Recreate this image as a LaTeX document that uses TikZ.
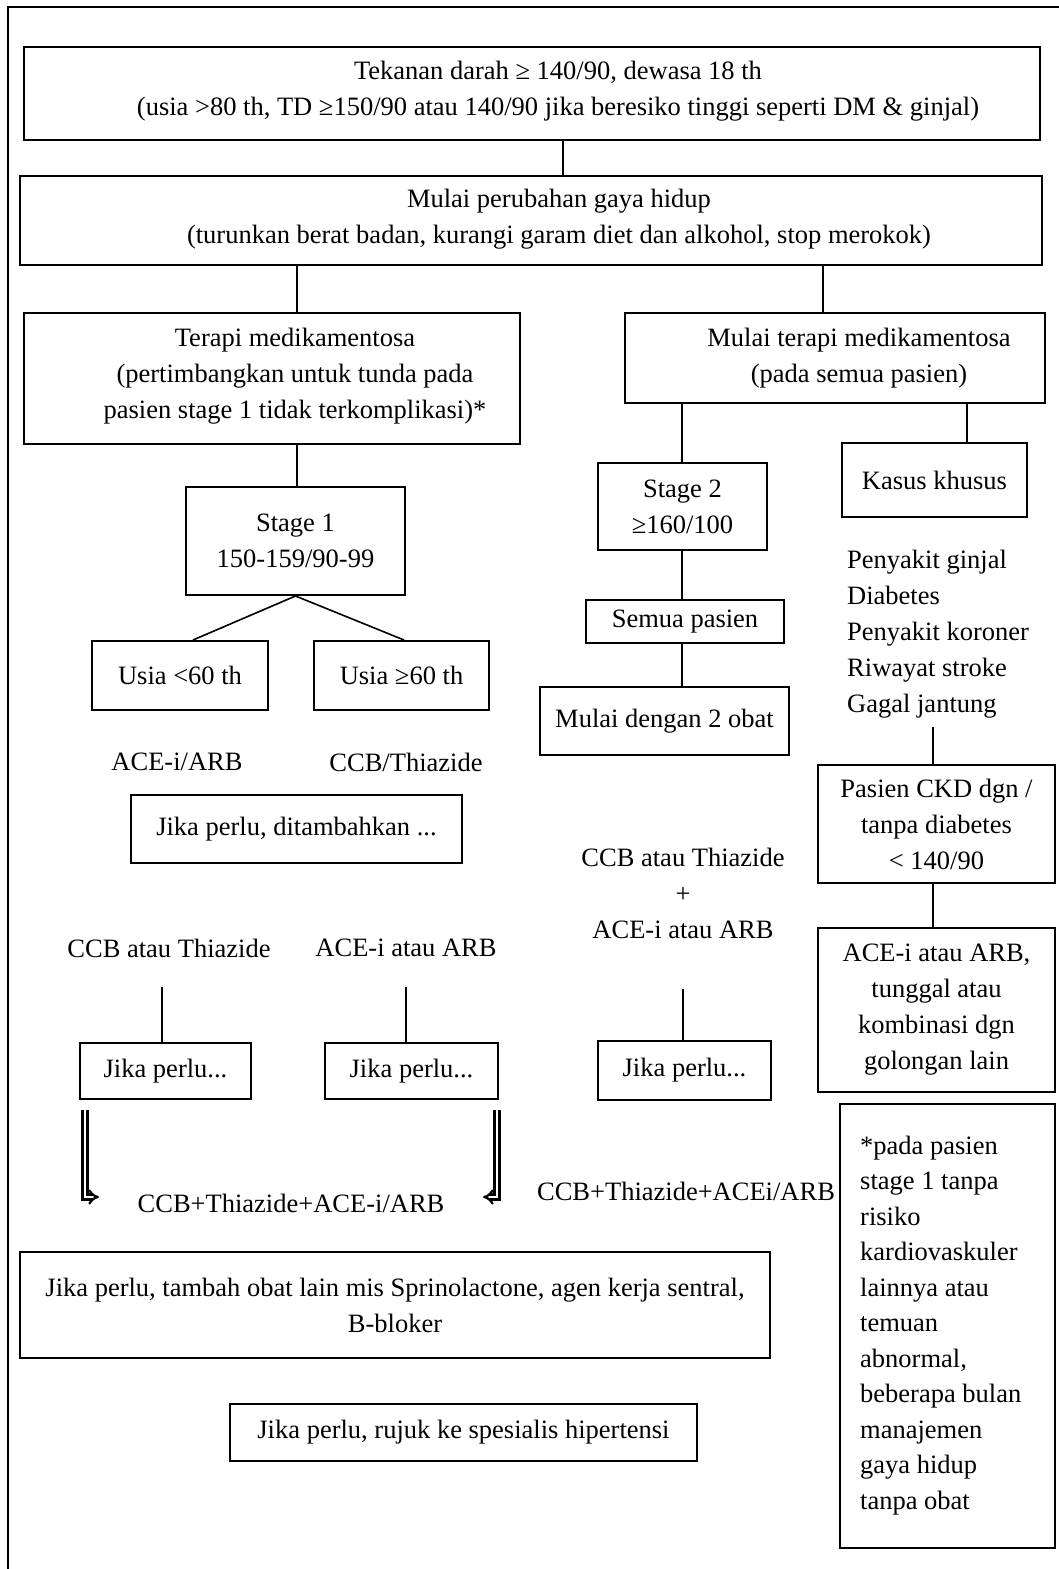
\documentclass[tikz,border=0pt]{standalone}
\usepackage{fontspec}
\setmainfont{Liberation Serif}
\usetikzlibrary{arrows.meta}
\newcommand\myfs{\fontsize{26.5}{36}\selectfont}
\begin{document}
\begin{tikzpicture}[x=1pt,y=-1pt,
  box/.style={draw,line width=2pt,inner sep=0pt,align=center,font=\myfs},
  txt/.style={inner sep=0pt,align=center,font=\myfs},
  ltxt/.style={inner sep=0pt,align=left,font=\myfs,anchor=west},
  conn/.style={line width=1.6pt},
  dbl/.style={double,double distance=2.6pt,line width=2.3pt,-{Implies}}]
\useasboundingbox (0,0) rectangle (1059,1569);
\draw[line width=1.4pt] (8,7) rectangle (1080,1600);
% top boxes
\node[box,minimum width=1016,minimum height=93] (b1) at (532,93.5) {};
\node[txt] (b1t) at (558,91) {Tekanan darah ≥ 140/90, dewasa 18 th\\(usia >80 th, TD ≥150/90 atau 140/90 jika beresiko tinggi seperti DM \& ginjal)};
\node[box,minimum width=1022,minimum height=89] (b2) at (531,220.5) {};
\node[txt] (b2t) at (559,219.5) {Mulai perubahan gaya hidup\\(turunkan berat badan, kurangi garam diet dan alkohol, stop merokok)};
\node[box,minimum width=496,minimum height=131] (b3) at (272,378.5) {};
\node[txt] (b3t) at (295,376.5) {Terapi medikamentosa\\(pertimbangkan untuk tunda pada\\pasien stage 1 tidak terkomplikasi)*};
\node[box,minimum width=420,minimum height=90] (b4) at (835,358) {};
\node[txt] (b4t) at (859,358.5) {Mulai terapi medikamentosa\\(pada semua pasien)};
\draw[conn] (563,0 |- b1.south) -- (563,0 |- b2.north);
\draw[conn] (297,0 |- b2.south) -- (297,0 |- b3.north);
\draw[conn] (823,0 |- b2.south) -- (823,0 |- b4.north);
% left branch
\node[box,minimum width=219,minimum height=108] (s1) at (295.5,541) {Stage 1\\150-159/90-99};
\draw[conn] (297,0 |- b3.south) -- (297,0 |- s1.north);
\node[box,minimum width=176,minimum height=69] (u1) at (180,675.5) {Usia <60 th};
\node[box,minimum width=175,minimum height=69] (u2) at (401.5,675.5) {Usia ≥60 th};
\draw[conn] (s1.south) -- (193,0 |- u1.north);
\draw[conn] (s1.south) -- (404,0 |- u2.north);
\node[txt] (ta) at (177,762) {ACE-i/ARB};
\node[txt] (tc) at (406,762) {CCB/Thiazide};
\node[box,minimum width=331,minimum height=68] (jpd) at (296.5,829) {Jika perlu, ditambahkan ...};
\node[txt] (t1) at (169,948) {CCB atau Thiazide};
\node[txt] (t2) at (406,948) {ACE-i atau ARB};
\node[box,minimum width=171,minimum height=56] (jp1) at (165.5,1071) {Jika perlu...};
\node[box,minimum width=173,minimum height=56] (jp2) at (411.5,1071) {Jika perlu...};
\draw[conn] (162,0 |- jp1.north) -- ++(0,-55);
\draw[conn] (406,0 |- jp2.north) -- ++(0,-55);
\node[txt] (ts1) at (291,1203) {CCB+Thiazide+ACE-i/ARB};
\coordinate (a1s) at (85,1110);
\coordinate (a1e) at (99,1197);
\coordinate (a2s) at (497,1110);
\coordinate (a2e) at (483,1197);
\draw[dbl] (a1s) |- (a1e);
\draw[dbl] (a2s) |- (a2e);
\node[box,minimum width=750,minimum height=106] (big) at (395,1305) {Jika perlu, tambah obat lain mis Sprinolactone, agen kerja sentral,\\B-bloker};
\node[box,minimum width=467,minimum height=57] (rj) at (463.5,1432.5) {Jika perlu, rujuk ke spesialis hipertensi};
% middle branch
\node[box,minimum width=169,minimum height=87] (s2) at (682.5,506.5) {Stage 2\\≥160/100};
\draw[conn] (682,0 |- b4.south) -- (682,0 |- s2.north);
\node[box,minimum width=198,minimum height=43] (sp) at (685,621.5) {Semua pasien};
\draw[conn] (682,0 |- s2.south) -- (682,0 |- sp.north);
\node[box,minimum width=249,minimum height=68] (m2) at (664.5,721) {Mulai dengan 2 obat};
\draw[conn] (682,0 |- sp.south) -- (682,0 |- m2.north);
\node[txt] (tcomb) at (683,893) {CCB atau Thiazide\\+\\ACE-i atau ARB};
\node[box,minimum width=173,minimum height=59] (jp3) at (684.5,1070.5) {Jika perlu...};
\draw[conn] (683,0 |- jp3.north) -- ++(0,-51);
\node[txt] (ts2) at (686,1191) {CCB+Thiazide+ACEi/ARB};
% right branch
\node[box,minimum width=185,minimum height=74] (kk) at (934.5,480) {Kasus khusus};
\draw[conn] (967,0 |- b4.south) -- (967,0 |- kk.north);
\node[ltxt] (lst) at (847,634) {Penyakit ginjal\\Diabetes\\Penyakit koroner\\Riwayat stroke\\Gagal jantung};
\node[box,minimum width=237,minimum height=118] (ckd) at (936.5,824) {Pasien CKD dgn /\\tanpa diabetes\\< 140/90};
\draw[conn] (933,727) -- (933,0 |- ckd.north);
\node[box,minimum width=237,minimum height=164] (ace) at (936.5,1010) {ACE-i atau ARB,\\tunggal atau\\kombinasi dgn\\golongan lain};
\draw[conn] (933,0 |- ckd.south) -- (933,0 |- ace.north);
\node[box,minimum width=215,minimum height=444] (nt) at (947.5,1326) {};
\node[ltxt,font=\fontsize{26.5}{35.5}\selectfont] (ntt) at (860,1325.5) {*pada pasien\\stage 1 tanpa\\risiko\\kardiovaskuler\\lainnya atau\\temuan\\abnormal,\\beberapa bulan\\manajemen\\gaya hidup\\tanpa obat};
\end{tikzpicture}
\end{document}
